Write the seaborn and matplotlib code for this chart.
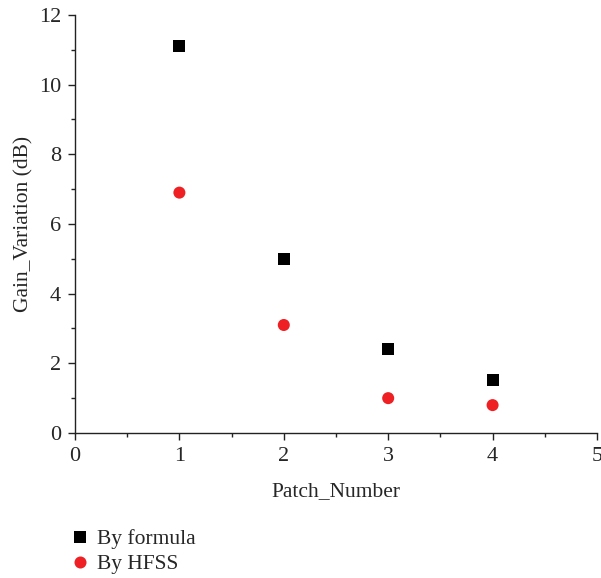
import matplotlib
matplotlib.use("Agg")
import matplotlib.pyplot as plt
import seaborn as sns
import pandas as pd
from matplotlib.ticker import MultipleLocator

patch_number = [1, 2, 3, 4]
by_formula = [11.1, 5.0, 2.4, 1.52]
by_hfss = [6.9, 3.1, 1.0, 0.8]
series_names = ["By formula", "By HFSS"]

df = pd.DataFrame({
    "Patch_Number": patch_number * 2,
    "Gain": by_formula + by_hfss,
    "Series": [series_names[0]] * 4 + [series_names[1]] * 4,
})

sns.set_theme(style="ticks")
plt.rcParams["font.family"] = ["Liberation Serif", "DejaVu Serif"]

fig = plt.figure(figsize=(6.01, 5.78), dpi=100)
ax = fig.add_axes([0.1248, 0.2509, 0.8685, 0.7232])

sns.scatterplot(data=df, x="Patch_Number", y="Gain", hue="Series", style="Series",
                palette={"By formula": "#000000", "By HFSS": "#ee2024"},
                markers={"By formula": "s", "By HFSS": "o"},
                s=75, linewidth=0, ax=ax, legend=True)

ax.set_xlim(0, 5)
ax.set_ylim(0, 12)
ax.xaxis.set_major_locator(MultipleLocator(1))
ax.xaxis.set_minor_locator(MultipleLocator(0.5))
ax.yaxis.set_major_locator(MultipleLocator(2))
ax.yaxis.set_minor_locator(MultipleLocator(1))
for s in ["top", "right"]:
    ax.spines[s].set_visible(False)
for s in ["left", "bottom"]:
    ax.spines[s].set_linewidth(1.0)
    ax.spines[s].set_color("#222222")
ax.tick_params(which="major", direction="out", length=5, width=1.0, labelsize=16, color="#222222", pad=5)
ax.tick_params(which="minor", direction="out", length=3, width=1.0, color="#222222")
ax.set_xlabel("Patch_Number", fontsize=15.5, labelpad=12)
ax.set_ylabel("Gain_Variation (dB)", fontsize=15.5, labelpad=4)

handles, labels = ax.get_legend_handles_labels()
ax.legend(handles=handles, labels=labels, loc="upper left", bbox_to_anchor=(-0.028, -0.21),
          frameon=False, fontsize=15.5, handletextpad=0.3, labelspacing=0.22,
          borderaxespad=0, handlelength=1.0)

fig.savefig("out.png", dpi=100)
